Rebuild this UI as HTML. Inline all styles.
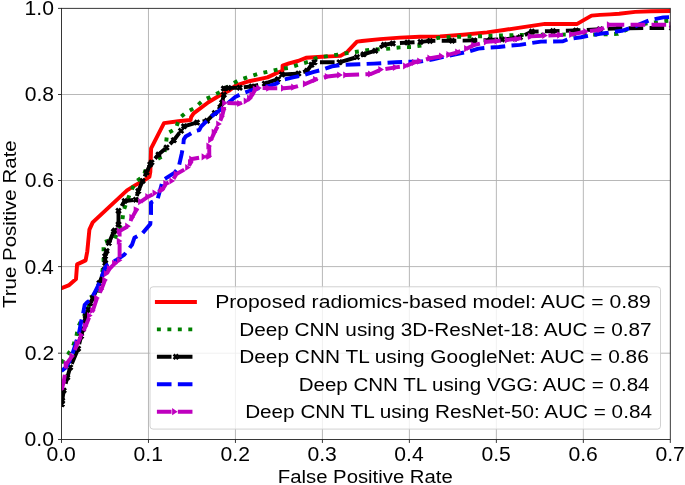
<!DOCTYPE html>
<html><head><meta charset="utf-8"><style>
html,body{margin:0;padding:0;background:#fff;}
svg{display:block;will-change:transform;}
</style></head><body>
<svg width="685" height="485" viewBox="0 0 685 485">
<defs><clipPath id="cp"><rect x="61.5" y="4.35" width="608.80" height="439.10"/></clipPath></defs>
<rect width="685" height="485" fill="#fff"/>
<line x1="148.47" y1="8.35" x2="148.47" y2="439.45" stroke="#b0b0b0" stroke-width="0.9"/>
<line x1="235.44" y1="8.35" x2="235.44" y2="439.45" stroke="#b0b0b0" stroke-width="0.9"/>
<line x1="322.41" y1="8.35" x2="322.41" y2="439.45" stroke="#b0b0b0" stroke-width="0.9"/>
<line x1="409.39" y1="8.35" x2="409.39" y2="439.45" stroke="#b0b0b0" stroke-width="0.9"/>
<line x1="496.36" y1="8.35" x2="496.36" y2="439.45" stroke="#b0b0b0" stroke-width="0.9"/>
<line x1="583.33" y1="8.35" x2="583.33" y2="439.45" stroke="#b0b0b0" stroke-width="0.9"/>
<line x1="61.5" y1="353.20" x2="670.3" y2="353.20" stroke="#b0b0b0" stroke-width="0.9"/>
<line x1="61.5" y1="266.60" x2="670.3" y2="266.60" stroke="#b0b0b0" stroke-width="0.9"/>
<line x1="61.5" y1="180.50" x2="670.3" y2="180.50" stroke="#b0b0b0" stroke-width="0.9"/>
<line x1="61.5" y1="94.50" x2="670.3" y2="94.50" stroke="#b0b0b0" stroke-width="0.9"/>
<g clip-path="url(#cp)" fill="none" stroke-linejoin="round">
<polyline points="61.5,288.2 69.2,285.1 76.0,279.1 77.1,264.4 85.6,260.4 87.3,251.3 89.4,229.6 92.7,222.4 127.0,190.4 135.8,184.9 144.5,180.0 149.4,176.9 150.3,172.0 151.1,148.4 164.0,123.1 178.3,121.2 190.6,120.0 191.1,117.1 193.6,113.4 208.4,102.2 220.8,94.8 229.4,90.5 235.6,85.6 249.2,81.2 267.5,77.4 279.0,72.0 282.5,70.8 282.6,65.6 289.0,63.4 298.0,61.0 306.0,57.8 314.0,57.2 322.0,56.8 330.0,56.4 340.5,55.9 347.3,51.9 357.0,41.6 362.0,41.0 380.0,39.1 400.0,37.6 420.0,36.8 440.0,36.4 463.0,34.7 487.0,32.4 504.0,30.0 520.0,27.6 545.0,23.9 577.2,23.9 591.5,15.6 600.0,14.9 610.0,14.4 619.1,13.8 635.2,11.9 651.2,11.2 672.0,11.0" stroke="#ff0000" stroke-width="3.95" stroke-linecap="square"/>
<polyline points="61.5,363.0 68.0,354.4 73.0,346.5 76.4,336.2 78.0,327.5 80.6,321.8 88.8,308.4 89.5,297.6 99.0,293.7 103.6,263.4 103.6,252.1 103.5,242.4 114.7,238.7 122.2,222.0 123.5,210.8 130.9,191.1 135.8,181.8 143.3,176.2 147.0,166.3 154.8,160.4 163.8,155.6 165.9,144.7 167.1,133.6 175.8,128.7 178.3,121.2 180.0,117.7 186.2,112.4 194.8,107.8 202.9,100.4 212.1,96.1 220.8,91.7 230.0,85.2 239.3,80.0 259.0,73.6 279.4,69.2 289.6,67.7 298.4,64.8 307.9,61.9 317.4,57.5 327.6,56.1 337.8,54.6 349.0,52.8 359.2,51.4 369.4,49.9 379.6,49.2 389.9,48.5 400.0,47.4 411.0,47.0 422.0,45.5 428.8,40.2 439.0,37.7 449.2,37.1 460.9,36.7 481.3,36.2 491.5,35.8 501.8,35.5 512.0,35.2 520.0,34.9 543.6,34.8 575.7,34.5 600.0,34.4 617.8,33.9 627.1,29.5 637.8,25.4 647.2,23.4 657.9,22.1 668.0,20.7 672.0,20.5" stroke="#008000" stroke-width="3.95" stroke-dasharray="3.95 6.52"/>
<polyline points="61.9,404.2 62.2,400.6 63.7,390.5 67.3,377.5 70.2,367.4 78.1,348.7 81.1,336.2 83.1,329.0 85.7,315.6 88.3,309.4 90.4,303.2 92.9,298.1 99.4,283.0 104.6,269.6 105.3,263.0 105.1,256.2 106.6,251.0 108.9,243.0 113.8,231.5 114.8,230.6 118.5,224.4 118.5,210.8 124.7,201.0 135.8,199.7 138.3,191.1 142.6,181.0 146.6,172.4 150.2,164.4 151.5,162.5 158.5,154.6 166.5,147.6 173.8,140.2 181.0,130.8 184.0,126.3 197.0,122.5 207.0,120.8 214.8,112.9 220.4,107.2 222.1,102.7 223.8,94.8 223.8,88.5 228.4,87.9 239.7,87.7 251.7,86.4 264.8,83.7 278.0,79.2 282.0,74.6 298.4,73.6 307.2,70.7 311.5,64.8 314.5,62.2 339.5,62.3 357.0,57.1 363.6,54.3 375.3,50.7 384.0,44.8 392.8,43.4 407.4,42.6 420.5,41.9 430.0,40.9 452.1,40.8 474.0,40.4 490.0,40.0 502.0,39.4 515.0,38.4 520.0,37.3 531.9,31.6 553.0,31.1 576.0,30.4 600.0,29.3 619.1,28.2 672.0,28.0" stroke="#000" stroke-width="3.95" stroke-dasharray="14.62 6.32"/>
<path d="M59.6,401.9L64.2,406.5M59.6,406.5L64.2,401.9M59.9,398.3L64.5,402.9M59.9,402.9L64.5,398.3M61.4,388.2L66.0,392.8M61.4,392.8L66.0,388.2M65.0,375.2L69.6,379.8M65.0,379.8L69.6,375.2M67.9,365.1L72.5,369.7M67.9,369.7L72.5,365.1M75.8,346.4L80.4,351.0M75.8,351.0L80.4,346.4M78.8,333.9L83.4,338.5M78.8,338.5L83.4,333.9M80.8,326.7L85.4,331.3M80.8,331.3L85.4,326.7M83.4,313.3L88.0,317.9M83.4,317.9L88.0,313.3M86.0,307.1L90.6,311.7M86.0,311.7L90.6,307.1M88.1,300.9L92.7,305.5M88.1,305.5L92.7,300.9M90.6,295.8L95.2,300.4M90.6,300.4L95.2,295.8M97.1,280.7L101.7,285.3M97.1,285.3L101.7,280.7M102.3,267.3L106.9,271.9M102.3,271.9L106.9,267.3M103.0,260.7L107.6,265.3M103.0,265.3L107.6,260.7M102.8,253.9L107.4,258.5M102.8,258.5L107.4,253.9M104.3,248.7L108.9,253.3M104.3,253.3L108.9,248.7M106.6,240.7L111.2,245.3M106.6,245.3L111.2,240.7M111.5,229.2L116.1,233.8M111.5,233.8L116.1,229.2M112.5,228.3L117.1,232.9M112.5,232.9L117.1,228.3M116.2,222.1L120.8,226.7M116.2,226.7L120.8,222.1M116.2,208.5L120.8,213.1M116.2,213.1L120.8,208.5M122.4,198.7L127.0,203.3M122.4,203.3L127.0,198.7M133.5,197.4L138.1,202.0M133.5,202.0L138.1,197.4M136.0,188.8L140.6,193.4M136.0,193.4L140.6,188.8M140.3,178.7L144.9,183.3M140.3,183.3L144.9,178.7M144.3,170.1L148.9,174.7M144.3,174.7L148.9,170.1M147.9,162.1L152.5,166.7M147.9,166.7L152.5,162.1M149.2,160.2L153.8,164.8M149.2,164.8L153.8,160.2M156.2,152.3L160.8,156.9M156.2,156.9L160.8,152.3M164.2,145.3L168.8,149.9M164.2,149.9L168.8,145.3M171.5,137.9L176.1,142.5M171.5,142.5L176.1,137.9M178.7,128.5L183.3,133.1M178.7,133.1L183.3,128.5M181.7,124.0L186.3,128.6M181.7,128.6L186.3,124.0M194.7,120.2L199.3,124.8M194.7,124.8L199.3,120.2M204.7,118.5L209.3,123.1M204.7,123.1L209.3,118.5M212.5,110.6L217.1,115.2M212.5,115.2L217.1,110.6M218.1,104.9L222.7,109.5M218.1,109.5L222.7,104.9M219.8,100.4L224.4,105.0M219.8,105.0L224.4,100.4M221.5,92.5L226.1,97.1M221.5,97.1L226.1,92.5M221.5,86.2L226.1,90.8M221.5,90.8L226.1,86.2M226.1,85.6L230.7,90.2M226.1,90.2L230.7,85.6M237.4,85.4L242.0,90.0M237.4,90.0L242.0,85.4M249.4,84.1L254.0,88.7M249.4,88.7L254.0,84.1M262.5,81.4L267.1,86.0M262.5,86.0L267.1,81.4M275.7,76.9L280.3,81.5M275.7,81.5L280.3,76.9M279.7,72.3L284.3,76.9M279.7,76.9L284.3,72.3M296.1,71.3L300.7,75.9M296.1,75.9L300.7,71.3M304.9,68.4L309.5,73.0M304.9,73.0L309.5,68.4M309.2,62.5L313.8,67.1M309.2,67.1L313.8,62.5M312.2,59.9L316.8,64.5M312.2,64.5L316.8,59.9M337.2,60.0L341.8,64.6M337.2,64.6L341.8,60.0M354.7,54.8L359.3,59.4M354.7,59.4L359.3,54.8M361.3,52.0L365.9,56.6M361.3,56.6L365.9,52.0M373.0,48.4L377.6,53.0M373.0,53.0L377.6,48.4M381.7,42.5L386.3,47.1M381.7,47.1L386.3,42.5M390.5,41.1L395.1,45.7M390.5,45.7L395.1,41.1M405.1,40.3L409.7,44.9M405.1,44.9L409.7,40.3M418.2,39.6L422.8,44.2M418.2,44.2L422.8,39.6M427.7,38.6L432.3,43.2M427.7,43.2L432.3,38.6M449.8,38.5L454.4,43.1M449.8,43.1L454.4,38.5M471.7,38.1L476.3,42.7M471.7,42.7L476.3,38.1M487.7,37.7L492.3,42.3M487.7,42.3L492.3,37.7M499.7,37.1L504.3,41.7M499.7,41.7L504.3,37.1M512.7,36.1L517.3,40.7M512.7,40.7L517.3,36.1M517.7,35.0L522.3,39.6M517.7,39.6L522.3,35.0M529.6,29.3L534.2,33.9M529.6,33.9L534.2,29.3M550.7,28.8L555.3,33.4M550.7,33.4L555.3,28.8M573.7,28.1L578.3,32.7M573.7,32.7L578.3,28.1M597.7,27.0L602.3,31.6M597.7,31.6L602.3,27.0M616.8,25.9L621.4,30.5M616.8,30.5L621.4,25.9M669.7,25.7L674.3,30.3M669.7,30.3L674.3,25.7" stroke="#000" stroke-width="2.7"/>
<polyline points="61.5,371.0 65.8,367.4 70.9,358.8 75.4,344.5 79.0,333.1 81.1,321.8 83.1,313.6 84.7,304.8 87.3,302.2 90.4,300.2 94.3,293.3 98.4,285.1 102.0,275.8 104.6,268.6 106.6,265.5 115.9,260.3 124.4,254.6 132.0,244.8 134.4,237.8 142.3,233.5 150.3,224.1 151.0,214.7 151.0,202.5 157.5,199.5 162.5,181.5 164.0,179.4 174.7,172.6 178.6,167.5 181.6,154.2 183.2,145.9 183.8,139.4 185.6,136.6 188.3,135.1 194.5,131.2 199.4,130.0 201.1,126.5 211.4,116.3 219.3,110.6 228.4,102.7 235.2,97.0 243.1,93.1 253.3,89.6 261.3,87.6 270.0,85.6 276.5,83.6 281.0,80.5 284.0,79.5 293.0,77.4 302.8,75.3 313.0,72.1 321.8,69.9 332.0,66.3 341.7,65.0 359.2,64.2 373.8,63.6 395.7,62.3 407.4,61.6 420.0,61.6 433.1,59.4 446.3,56.2 458.0,53.7 468.2,51.7 478.4,48.6 487.2,47.6 498.8,47.0 507.6,45.9 520.0,44.9 527.5,43.6 541.0,41.6 563.0,41.3 568.0,39.2 581.0,37.3 588.0,35.9 600.0,33.8 608.4,32.8 621.8,30.8 632.5,27.4 641.9,23.4 649.9,20.1 663.3,17.4 672.0,17.0" stroke="#0000ff" stroke-width="3.95" stroke-dasharray="14.62 6.32"/>
<polyline points="61.9,389.0 63.7,381.8 66.5,363.8 72.3,355.9 77.5,343.5 81.6,335.2 85.7,325.9 89.8,315.6 92.9,310.5 97.0,298.1 101.5,289.2 105.1,279.9 106.6,273.7 109.7,268.6 114.9,263.4 119.6,260.3 119.6,241.1 119.6,231.0 128.0,226.2 132.2,217.4 136.5,209.8 140.9,201.7 148.1,196.7 155.3,193.1 162.5,189.5 166.1,183.6 172.2,181.0 176.5,174.0 188.0,167.5 190.8,162.5 192.0,159.0 204.4,156.8 209.3,156.3 209.2,146.0 211.0,139.8 214.5,132.3 219.0,124.0 222.1,116.3 223.8,109.5 225.0,103.0 240.0,103.5 246.5,101.0 249.9,98.2 252.2,94.8 255.6,89.1 259.0,88.0 269.0,88.2 283.8,88.2 294.0,87.2 305.7,83.8 315.9,79.4 327.6,76.5 340.0,75.0 346.0,75.0 370.9,74.0 381.1,69.6 395.7,67.4 405.9,66.0 414.7,62.3 420.0,61.1 430.2,58.2 441.9,56.2 449.2,54.6 458.0,52.1 466.9,48.6 474.0,45.1 486.7,41.8 497.4,41.0 507.6,39.9 517.3,38.9 531.0,36.4 545.0,35.5 560.0,35.1 572.0,34.4 586.0,31.6 600.4,29.6 609.7,24.8 672.0,24.8" stroke="#bf00bf" stroke-width="3.95" stroke-dasharray="14.62 6.32"/>
<path d="M59.1,385.4L64.7,389.0L59.1,392.6ZM60.9,378.2L66.5,381.8L60.9,385.4ZM63.7,360.2L69.3,363.8L63.7,367.4ZM69.5,352.3L75.1,355.9L69.5,359.5ZM74.7,339.9L80.3,343.5L74.7,347.1ZM78.8,331.6L84.4,335.2L78.8,338.8ZM82.9,322.3L88.5,325.9L82.9,329.5ZM87.0,312.0L92.6,315.6L87.0,319.2ZM90.1,306.9L95.7,310.5L90.1,314.1ZM94.2,294.5L99.8,298.1L94.2,301.7ZM98.7,285.6L104.3,289.2L98.7,292.8ZM102.3,276.3L107.9,279.9L102.3,283.5ZM103.8,270.1L109.4,273.7L103.8,277.3ZM106.9,265.0L112.5,268.6L106.9,272.2ZM112.1,259.8L117.7,263.4L112.1,267.0ZM116.8,256.7L122.4,260.3L116.8,263.9ZM116.8,237.5L122.4,241.1L116.8,244.7ZM116.8,227.4L122.4,231.0L116.8,234.6ZM125.2,222.6L130.8,226.2L125.2,229.8ZM129.4,213.8L135.0,217.4L129.4,221.0ZM133.7,206.2L139.3,209.8L133.7,213.4ZM138.1,198.1L143.7,201.7L138.1,205.3ZM145.3,193.1L150.9,196.7L145.3,200.3ZM152.5,189.5L158.1,193.1L152.5,196.7ZM159.7,185.9L165.3,189.5L159.7,193.1ZM163.3,180.0L168.9,183.6L163.3,187.2ZM169.4,177.4L175.0,181.0L169.4,184.6ZM173.7,170.4L179.3,174.0L173.7,177.6ZM185.2,163.9L190.8,167.5L185.2,171.1ZM188.0,158.9L193.6,162.5L188.0,166.1ZM189.2,155.4L194.8,159.0L189.2,162.6ZM201.6,153.2L207.2,156.8L201.6,160.4ZM206.5,152.7L212.1,156.3L206.5,159.9ZM206.4,142.4L212.0,146.0L206.4,149.6ZM208.2,136.2L213.8,139.8L208.2,143.4ZM211.7,128.7L217.3,132.3L211.7,135.9ZM216.2,120.4L221.8,124.0L216.2,127.6ZM219.3,112.7L224.9,116.3L219.3,119.9ZM221.0,105.9L226.6,109.5L221.0,113.1ZM222.2,99.4L227.8,103.0L222.2,106.6ZM237.2,99.9L242.8,103.5L237.2,107.1ZM243.7,97.4L249.3,101.0L243.7,104.6ZM247.1,94.6L252.7,98.2L247.1,101.8ZM249.4,91.2L255.0,94.8L249.4,98.4ZM252.8,85.5L258.4,89.1L252.8,92.7ZM256.2,84.4L261.8,88.0L256.2,91.6ZM266.2,84.6L271.8,88.2L266.2,91.8ZM281.0,84.6L286.6,88.2L281.0,91.8ZM291.2,83.6L296.8,87.2L291.2,90.8ZM302.9,80.2L308.5,83.8L302.9,87.4ZM313.1,75.8L318.7,79.4L313.1,83.0ZM324.8,72.9L330.4,76.5L324.8,80.1ZM337.2,71.4L342.8,75.0L337.2,78.6ZM343.2,71.4L348.8,75.0L343.2,78.6ZM368.1,70.4L373.7,74.0L368.1,77.6ZM378.3,66.0L383.9,69.6L378.3,73.2ZM392.9,63.8L398.5,67.4L392.9,71.0ZM403.1,62.4L408.7,66.0L403.1,69.6ZM411.9,58.7L417.5,62.3L411.9,65.9ZM417.2,57.5L422.8,61.1L417.2,64.7ZM427.4,54.6L433.0,58.2L427.4,61.8ZM439.1,52.6L444.7,56.2L439.1,59.8ZM446.4,51.0L452.0,54.6L446.4,58.2ZM455.2,48.5L460.8,52.1L455.2,55.7ZM464.1,45.0L469.7,48.6L464.1,52.2ZM471.2,41.5L476.8,45.1L471.2,48.7ZM483.9,38.2L489.5,41.8L483.9,45.4ZM494.6,37.4L500.2,41.0L494.6,44.6ZM504.8,36.3L510.4,39.9L504.8,43.5ZM514.5,35.3L520.1,38.9L514.5,42.5ZM528.2,32.8L533.8,36.4L528.2,40.0ZM542.2,31.9L547.8,35.5L542.2,39.1ZM557.2,31.5L562.8,35.1L557.2,38.7ZM569.2,30.8L574.8,34.4L569.2,38.0ZM583.2,28.0L588.8,31.6L583.2,35.2ZM597.6,26.0L603.2,29.6L597.6,33.2ZM606.9,21.2L612.5,24.8L606.9,28.4ZM669.2,21.2L674.8,24.8L669.2,28.4Z" fill="#bf00bf" stroke="none"/>
</g>
<rect x="61.5" y="8.35" width="608.80" height="431.10" fill="none" stroke="#222" stroke-width="0.9"/>
<line x1="61.50" y1="439.45" x2="61.50" y2="442.95" stroke="#222" stroke-width="0.9"/>
<line x1="148.47" y1="439.45" x2="148.47" y2="442.95" stroke="#222" stroke-width="0.9"/>
<line x1="235.44" y1="439.45" x2="235.44" y2="442.95" stroke="#222" stroke-width="0.9"/>
<line x1="322.41" y1="439.45" x2="322.41" y2="442.95" stroke="#222" stroke-width="0.9"/>
<line x1="409.39" y1="439.45" x2="409.39" y2="442.95" stroke="#222" stroke-width="0.9"/>
<line x1="496.36" y1="439.45" x2="496.36" y2="442.95" stroke="#222" stroke-width="0.9"/>
<line x1="583.33" y1="439.45" x2="583.33" y2="442.95" stroke="#222" stroke-width="0.9"/>
<line x1="670.30" y1="439.45" x2="670.30" y2="442.95" stroke="#222" stroke-width="0.9"/>
<line x1="58.0" y1="439.50" x2="61.5" y2="439.50" stroke="#222" stroke-width="0.9"/>
<line x1="58.0" y1="353.20" x2="61.5" y2="353.20" stroke="#222" stroke-width="0.9"/>
<line x1="58.0" y1="266.60" x2="61.5" y2="266.60" stroke="#222" stroke-width="0.9"/>
<line x1="58.0" y1="180.50" x2="61.5" y2="180.50" stroke="#222" stroke-width="0.9"/>
<line x1="58.0" y1="94.50" x2="61.5" y2="94.50" stroke="#222" stroke-width="0.9"/>
<line x1="58.0" y1="8.40" x2="61.5" y2="8.40" stroke="#222" stroke-width="0.9"/>
<g font-family='"Liberation Sans", sans-serif' font-size="18.7" fill="#000">
<text transform="translate(46.51,460.70) scale(1.1300,1.07)">0.0</text>
<text transform="translate(133.59,460.70) scale(1.1300,1.07)">0.1</text>
<text transform="translate(220.57,460.70) scale(1.1300,1.07)">0.2</text>
<text transform="translate(307.48,460.70) scale(1.1300,1.07)">0.3</text>
<text transform="translate(394.28,460.70) scale(1.1300,1.07)">0.4</text>
<text transform="translate(481.42,460.70) scale(1.1300,1.07)">0.5</text>
<text transform="translate(568.40,460.70) scale(1.1300,1.07)">0.6</text>
<text transform="translate(655.42,460.70) scale(1.1300,1.07)">0.7</text>
<text transform="translate(24.61,446.40) scale(1.1300,1.07)">0.0</text>
<text transform="translate(24.84,360.10) scale(1.1300,1.07)">0.2</text>
<text transform="translate(24.39,273.50) scale(1.1300,1.07)">0.4</text>
<text transform="translate(24.72,187.40) scale(1.1300,1.07)">0.6</text>
<text transform="translate(24.72,101.40) scale(1.1300,1.07)">0.8</text>
<text transform="translate(24.61,15.30) scale(1.1300,1.07)">1.0</text>
<text transform="translate(277.77,482.60) scale(1.0875,1.0)">False Positive Rate</text>
<text transform="translate(16.3,308.04) rotate(-90) scale(1.0961,1)">True Positive Rate</text>
</g>
<rect x="150" y="286.8" width="510.5" height="142.3" rx="3" ry="3" fill="#ffffff" fill-opacity="0.8" stroke="#cccccc" stroke-width="0.9"/>
<line x1="156.9" y1="301.9" x2="194.9" y2="301.9" stroke="#ff0000" stroke-width="3.95" stroke-linecap="square"/>
<line x1="156.9" y1="329.35" x2="194.9" y2="329.35" stroke="#008000" stroke-width="3.95" stroke-dasharray="3.95 6.52"/>
<line x1="156.9" y1="356.8" x2="194.9" y2="356.8" stroke="#000" stroke-width="3.95" stroke-dasharray="14.62 6.32"/>
<path d="M173.6,354.5L178.2,359.1M173.6,359.1L178.2,354.5" stroke="#000" stroke-width="2.7" fill="none"/>
<line x1="156.9" y1="384.25" x2="194.9" y2="384.25" stroke="#0000ff" stroke-width="3.95" stroke-dasharray="14.62 6.32"/>
<line x1="156.9" y1="411.7" x2="194.9" y2="411.7" stroke="#bf00bf" stroke-width="3.95" stroke-dasharray="14.62 6.32"/>
<path d="M172.1,408.1L177.7,411.7L172.1,415.3Z" fill="#bf00bf"/>
<g font-family='"Liberation Sans", sans-serif' font-size="18.7" fill="#000">
<text transform="translate(215.20,308.30) scale(1.1317,1.0)">Proposed radiomics-based model: AUC = 0.89</text>
<text transform="translate(239.23,335.75) scale(1.1105,1.0)">Deep CNN using 3D-ResNet-18: AUC = 0.87</text>
<text transform="translate(239.23,363.20) scale(1.1150,1.0)">Deep CNN TL using GoogleNet: AUC = 0.86</text>
<text transform="translate(298.65,390.65) scale(1.0989,1.0)">Deep CNN TL using VGG: AUC = 0.84</text>
<text transform="translate(245.14,418.10) scale(1.1081,1.0)">Deep CNN TL using ResNet-50: AUC = 0.84</text>
</g>
</svg>
</body></html>
